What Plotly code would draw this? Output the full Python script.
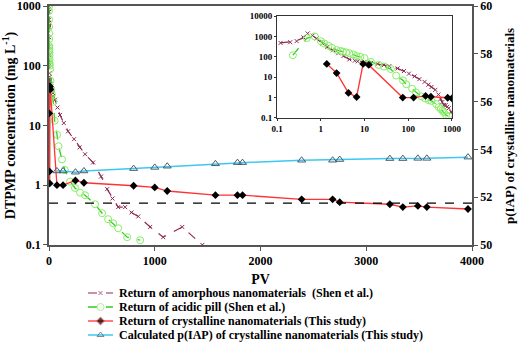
import plotly.graph_objects as go

# ---- data ----
amorph_pv = [0.12, 0.2, 0.28, 0.4, 0.5, 0.65, 0.8, 1.1, 1.4, 1.9, 2.5, 3.3, 4.5, 6, 7, 10, 14, 20, 28, 37,
             57, 80, 104, 140, 180, 237, 290, 341, 417, 493, 550, 600, 654, 720, 780, 844, 957, 1080,
             1260, 1450, 1550]
amorph_conc = [480, 520, 590, 900, 1400, 1100, 800, 450, 300, 210, 150, 110, 75, 65, 60, 56, 50, 45, 40, 35,
               27, 20, 15, 11, 8, 5.9, 4.3, 3.3, 2.4, 1.4, 0.86, 0.6, 0.43, 0.43, 0.35, 0.3, 0.2, 0.135,
               0.2, 0.1, 0.07]

acid_pv = [0.23, 0.48, 0.73, 1.0, 1.2, 1.5, 1.8, 2.3, 2.8, 3.2, 3.8, 4.5, 5.5, 6.5, 8, 10, 14, 21, 28, 40,
           53, 76, 90, 123, 150, 199, 246, 294, 341, 436, 502, 559, 607, 654, 739, 862]
acid_conc = [120, 830, 1000, 590, 450, 350, 280, 215, 195, 180, 165, 150, 130, 110, 100, 87, 56, 40, 33, 25,
             12, 7, 4.5, 2.7, 1.8, 1.15, 0.9, 0.75, 0.68, 0.48, 0.34, 0.27, 0.23, 0.19, 0.135, 0.12]

cryst_pv = [1.37, 2.3, 4.3, 6.6, 9.3, 12.5, 75, 133, 250, 330, 800, 1000, 1118, 1574, 1782, 1830,
            2389, 2682, 2749, 3223, 3346, 3488, 3573, 3962]
cryst_conc = [45, 16, 1.7, 1.07, 45, 40, 1.0, 1.0, 1.2, 1.1, 0.98, 0.92, 0.8, 0.68, 0.68, 0.68,
              0.58, 0.58, 0.52, 0.48, 0.43, 0.45, 0.43, 0.4]

iap_pv = [75, 133, 250, 330, 800, 1000, 1118, 1574, 1782, 1830, 2389, 2682, 2749, 3223, 3346, 3488, 3573, 3962]
iap_val = [53.1, 53.1, 53.05, 53.1, 53.2, 53.25, 53.3, 53.4, 53.45, 53.45, 53.55, 53.55, 53.58, 53.62,
           53.62, 53.63, 53.63, 53.68]

threshold = 0.5
pv_range = [0, 4000]

legend_labels = [
    "Return of amorphous nanomaterials\u00a0 (Shen et al.)",
    "Return of acidic pill (Shen et al.)",
    "Return of crystalline nanomaterials (This study)",
    "Calculated p(IAP) of crystalline nanomaterials (This study)",
]

# ---- styles ----
FONT = 'Liberation Serif, Times New Roman, serif'
AM_LINE = '#8e2a50'
AM_MARK = '#d0a8bc'
AC_LINE = '#33cc22'
AC_MARK = '#88ee66'
CR_LINE = '#ff3333'
IAP_LINE = '#3cc8f0'
IAP_MARK = '#4a5a6a'

W, H = 521, 343
ML, MR, MT = 49, 49, 6
PW = W - ML - MR
PH = H - MT


def xd(px0, px1):
    return [(px0 - ML) / PW, (px1 - ML) / PW]


def yd(py_bottom, py_top):
    return [(H - py_bottom) / PH, (H - py_top) / PH]


def b(s):
    return '<b>' + s + '</b>'


fig = go.Figure()

am_style = dict(mode='lines+markers', line=dict(color=AM_LINE, width=1.2, dash='dash'),
                marker=dict(symbol='x-thin-open', size=4, line=dict(color=AM_MARK, width=1)))
ac_style = dict(mode='lines+markers', line=dict(color=AC_LINE, width=1.3, dash='dash'),
                marker=dict(symbol='circle-open', size=7, color=AC_MARK, line=dict(color=AC_MARK, width=1)))
cr_style = dict(mode='lines+markers', line=dict(color=CR_LINE, width=1.3),
                marker=dict(symbol='diamond', size=6, color='black'))

for xa, ya in [('x', 'y'), ('x3', 'y3')]:
    fig.add_trace(go.Scatter(x=amorph_pv, y=amorph_conc, xaxis=xa, yaxis=ya, **am_style))
    fig.add_trace(go.Scatter(x=acid_pv, y=acid_conc, xaxis=xa, yaxis=ya, **ac_style))
    fig.add_trace(go.Scatter(x=cryst_pv, y=cryst_conc, xaxis=xa, yaxis=ya, **cr_style))

fig.add_trace(go.Scatter(x=pv_range, y=[threshold, threshold], mode='lines', xaxis='x', yaxis='y',
                         line=dict(color='black', width=1.2, dash='dash')))

fig.add_trace(go.Scatter(x=iap_pv, y=iap_val, xaxis='x', yaxis='y2', mode='lines+markers',
                         line=dict(color=IAP_LINE, width=1.5),
                         marker=dict(symbol='triangle-up-open', size=7, color=IAP_MARK,
                                     line=dict(color=IAP_MARK, width=1))))

# ---- hand-made legend below the plot ----
rows = [293, 307, 321, 335]
styles = [am_style, ac_style, cr_style,
          dict(mode='lines+markers', line=dict(color=IAP_LINE, width=1.5),
               marker=dict(symbol='triangle-up-open', size=6, color=IAP_MARK, line=dict(color=IAP_MARK, width=1)))]
for r, st, lab in zip(rows, styles, legend_labels):
    st = dict(st)
    mk = dict(st['marker'])
    mk['size'] = [0, mk['size'], 0]
    st['marker'] = mk
    fig.add_trace(go.Scatter(x=[88, 100.5, 113], y=[r, r, r], xaxis='x4', yaxis='y4', **st))
    fig.add_annotation(x=117, y=r, xref='x4', yref='y4', text=b(lab), showarrow=False,
                       xanchor='left', yanchor='middle',
                       font=dict(family=FONT, size=12, color='black'))

tickf = dict(family=FONT, size=12, color='black')
titf = dict(family=FONT, size=14, color='black')
insf = dict(family=FONT, size=9, color='black')

# right-hand axis title as a rotated annotation
fig.add_annotation(x=(510 - ML) / PW, y=(H - 126) / PH, xref='paper', yref='paper',
                   text=b('p(IAP) of crystalline nanomaterials'), textangle=-90, showarrow=False,
                   xanchor='center', yanchor='middle', font=dict(family=FONT, size=13, color='black'))

main_ticks = [0.1, 1, 10, 100, 1000]
inset_xticks = [0.1, 1, 10, 100, 1000]
inset_yticks = [0.1, 1, 10, 100, 1000, 10000]
main_dom = yd(245, 6)

fig.update_layout(
    width=W, height=H, autosize=False,
    margin=dict(l=ML, r=MR, t=MT, b=0, autoexpand=False),
    plot_bgcolor='white', paper_bgcolor='white',
    showlegend=False,
    font=dict(family=FONT, color='black'),
    xaxis=dict(domain=[0, 1], anchor='y', range=pv_range, tickvals=[0, 1000, 2000, 3000, 4000],
               ticktext=[b(str(v)) for v in [0, 1000, 2000, 3000, 4000]], automargin=False,
               showgrid=False, zeroline=False, showline=True, linecolor='#555', linewidth=1.5, mirror=True,
               ticks='outside', ticklen=4, tickcolor='#555', tickfont=tickf,
               title=dict(text=b('PV'), font=titf, standoff=7)),
    yaxis=dict(domain=main_dom, anchor='x', type='log', range=[-1.001, 3.001], automargin=False,
               tickvals=main_ticks, ticktext=[b(f'{v:g}') for v in main_ticks],
               showgrid=False, zeroline=False, showline=True, linecolor='#555', linewidth=1.5,
               ticks='outside', ticklen=4, tickcolor='#555', tickfont=tickf, ticklabeloverflow='allow',
               title=dict(text=b('DTPMP concentration (mg L<sup>-1</sup>)'), font=titf, standoff=6)),
    yaxis2=dict(overlaying='y', side='right', anchor='x', domain=main_dom, range=[50, 60.01],
                automargin=False,
                tickvals=[50, 52, 54, 56, 58, 60], ticktext=[b(str(v)) for v in [50, 52, 54, 56, 58, 60]],
                showgrid=False, zeroline=False, showline=True, linecolor='#555', linewidth=1.5,
                ticks='outside', ticklen=4, tickcolor='#555', tickfont=tickf, ticklabeloverflow='allow'),
    xaxis3=dict(domain=xd(277, 452), anchor='y3', type='log', range=[-1.002, 3.002], automargin=False,
                tickvals=inset_xticks, ticktext=[b(f'{v:g}') for v in inset_xticks],
                showgrid=False, zeroline=False, showline=True, linecolor='#333', linewidth=1, mirror=True,
                ticks='outside', ticklen=2, tickcolor='#333', tickfont=insf),
    yaxis3=dict(domain=yd(118, 16), anchor='x3', type='log', range=[-1.002, 4.002], automargin=False,
                tickvals=inset_yticks, ticktext=[b(f'{v:g}') for v in inset_yticks],
                showgrid=False, zeroline=False, showline=True, linecolor='#333', linewidth=1, mirror=True,
                ticks='outside', ticklen=2, tickcolor='#333', tickfont=insf),
    xaxis4=dict(domain=[0, 1], anchor='y4', range=[ML, W - MR], visible=False, fixedrange=True,
                automargin=False),
    yaxis4=dict(domain=yd(342, 286), anchor='x4', range=[342, 286], visible=False, fixedrange=True,
                automargin=False),
)

# page body has a default margin; drop it so the figure sits at the window's corner
post = ("document.body.style.margin='0';document.body.style.overflow='hidden';"
        "Plotly.relayout(document.getElementById('{plot_id}'), {width: %d, height: %d});" % (W, H))
fig.write_html("out.html", post_script=post,
               config={'displayModeBar': False, 'responsive': False})
